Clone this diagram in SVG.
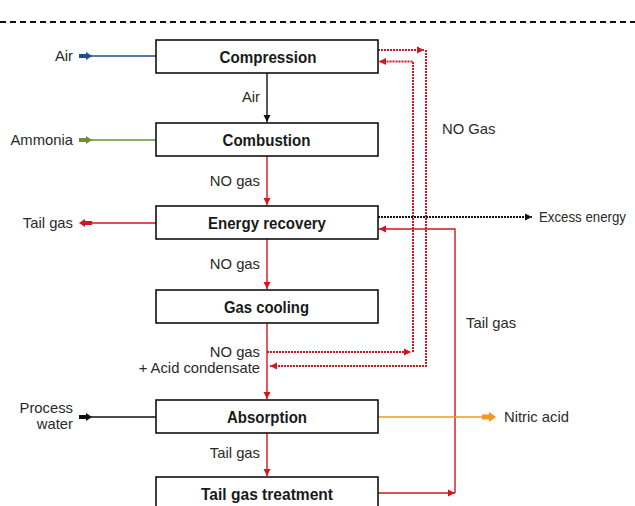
<svg xmlns="http://www.w3.org/2000/svg" width="635" height="506" viewBox="0 0 635 506">
<style>
.box{fill:#fff;stroke:#111;stroke-width:1.6}
.bl{font-family:"Liberation Sans",Arial,sans-serif;font-weight:bold;font-size:17px;fill:#1a1a1a;text-anchor:middle}
.lb{font-family:"Liberation Sans",Arial,sans-serif;font-size:14.8px;fill:#2a2a2a}
.r{text-anchor:end}
.red{stroke:#d2151e;stroke-width:1.4;fill:none}
.reddot{stroke:#d2151e;stroke-width:2;stroke-dasharray:2 1;fill:none}
.blk{stroke:#111;stroke-width:1.4;fill:none}
.blkdot{stroke:#111;stroke-width:2;stroke-dasharray:2 1;fill:none}
</style>
<defs>
<marker id="ar" markerWidth="8" markerHeight="8" refX="7" refY="4" orient="auto" markerUnits="userSpaceOnUse"><path d="M0,0.5 L7,4 L0,7.5Z" fill="#d2151e"/></marker>
<marker id="ak" markerWidth="8" markerHeight="8" refX="7" refY="4" orient="auto" markerUnits="userSpaceOnUse"><path d="M0,0.5 L7,4 L0,7.5Z" fill="#111"/></marker>
</defs>
<rect width="635" height="506" fill="#fff"/>
<line x1="0" y1="22" x2="635" y2="22" stroke="#111" stroke-width="1.8" stroke-dasharray="6 4"/>

<g id="connectors">
<line class="blk" x1="267" y1="73" x2="267" y2="122" marker-end="url(#ak)"/>
<line class="red" x1="267" y1="156" x2="267" y2="205" marker-end="url(#ar)"/>
<line class="red" x1="267" y1="239" x2="267" y2="289" marker-end="url(#ar)"/>
<line class="red" x1="267" y1="323" x2="267" y2="399" marker-end="url(#ar)"/>
<line class="red" x1="267" y1="433" x2="267" y2="476" marker-end="url(#ar)"/>
<line x1="89" y1="56" x2="156" y2="56" stroke="#1c4f8c" stroke-width="1.4"/>
<path d="M79,54 H86 V52 L92,56 L86,60 V58 H79Z" fill="#1c4f8c"/>
<line x1="89" y1="140" x2="156" y2="140" stroke="#6a9232" stroke-width="1.4"/>
<path d="M79,138 H86 V136 L92,140 L86,144 V142 H79Z" fill="#6a9232"/>
<line x1="90" y1="223" x2="156" y2="223" stroke="#d2151e" stroke-width="1.4"/>
<path d="M92,221 H85 V219 L79,223 L85,227 V225 H92Z" fill="#d2151e"/>
<line x1="89" y1="417" x2="156" y2="417" stroke="#111" stroke-width="1.4"/>
<path d="M79,415 H86 V413 L92,417 L86,421 V419 H79Z" fill="#111"/>
<path class="reddot" d="M378,50 H424" marker-end="url(#ar)"/>
<path class="reddot" d="M426,50 V366 H270" marker-end="url(#ar)"/>
<path class="reddot" d="M267,352 H411" marker-end="url(#ar)"/>
<path class="reddot" d="M413,352 V61.5 H379" marker-end="url(#ar)"/>
<path class="blkdot" d="M378,217 H532" marker-end="url(#ak)"/>
<path class="red" d="M378,493 H455" marker-end="url(#ar)"/>
<path class="red" d="M455,493 V229 H379" marker-end="url(#ar)"/>
<line x1="378" y1="417" x2="484" y2="417" stroke="#f7941d" stroke-width="1.4"/>
<path d="M482,414.5 H489 V412 L496,417 L489,422 V419.5 H482Z" fill="#f7941d"/>
</g>

<g id="compression"><rect class="box" x="156" y="40" width="222" height="33"/><text class="bl" x="268" y="62.7" textLength="97" lengthAdjust="spacingAndGlyphs">Compression</text></g>
<g id="combustion"><rect class="box" x="156" y="123" width="222" height="33"/><text class="bl" x="266.5" y="145.7" textLength="88" lengthAdjust="spacingAndGlyphs">Combustion</text></g>
<g id="energy-recovery"><rect class="box" x="156" y="206" width="222" height="33"/><text class="bl" x="267" y="228.7" textLength="118" lengthAdjust="spacingAndGlyphs">Energy recovery</text></g>
<g id="gas-cooling"><rect class="box" x="156" y="290" width="222" height="33"/><text class="bl" x="266.5" y="312.7" textLength="85" lengthAdjust="spacingAndGlyphs">Gas cooling</text></g>
<g id="absorption"><rect class="box" x="156" y="400" width="222" height="33"/><text class="bl" x="267" y="422.7" textLength="80" lengthAdjust="spacingAndGlyphs">Absorption</text></g>
<g id="tail-gas-treatment"><rect class="box" x="156" y="477" width="222" height="40"/><text class="bl" x="267" y="499.7" textLength="132" lengthAdjust="spacingAndGlyphs">Tail gas treatment</text></g>

<g id="labels">
<text class="lb r" x="73" y="60.5">Air</text>
<text class="lb r" x="73" y="144.5">Ammonia</text>
<text class="lb r" x="73" y="228">Tail gas</text>
<text class="lb r" x="73" y="412.5">Process</text>
<text class="lb r" x="73" y="428.5">water</text>
<text class="lb r" x="260" y="102">Air</text>
<text class="lb r" x="260" y="186">NO gas</text>
<text class="lb r" x="260" y="268.5">NO gas</text>
<text class="lb r" x="260" y="356.5">NO gas</text>
<text class="lb r" x="260" y="372.5">+ Acid condensate</text>
<text class="lb r" x="260" y="458">Tail gas</text>
<text class="lb" x="442" y="134">NO Gas</text>
<text class="lb" x="466" y="328">Tail gas</text>
<text class="lb" x="539" y="222" textLength="87" lengthAdjust="spacingAndGlyphs">Excess energy</text>
<text class="lb" x="504" y="422">Nitric acid</text>
</g>
</svg>
